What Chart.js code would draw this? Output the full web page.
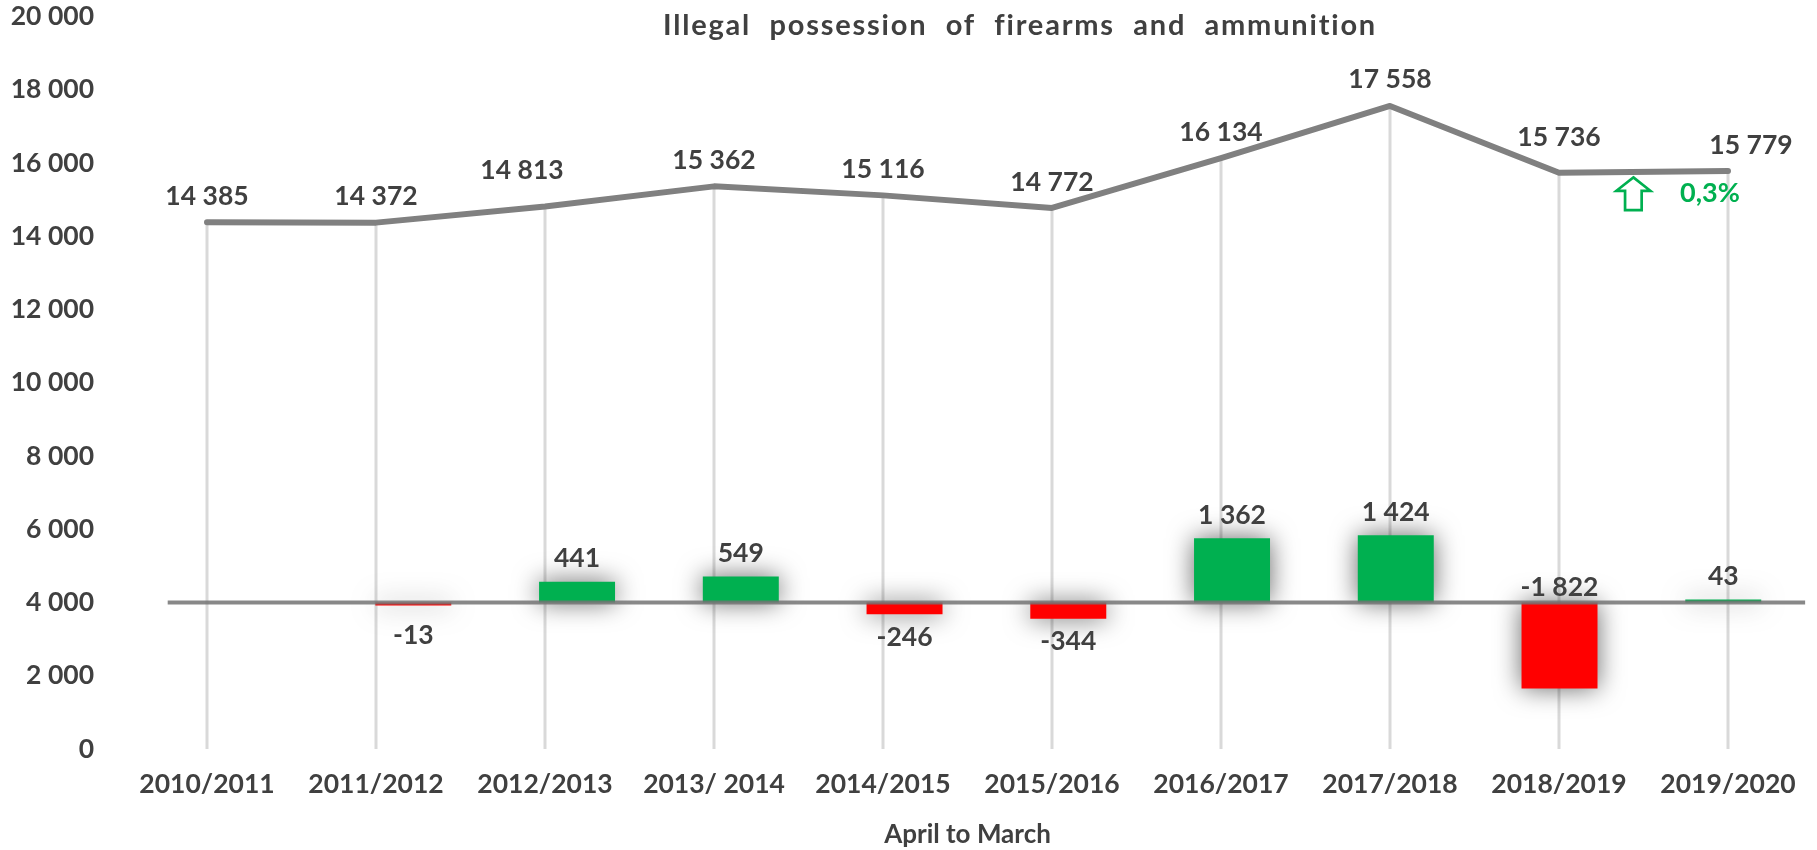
<!DOCTYPE html>
<html lang="en">
<head>
<meta charset="UTF-8">
<title>Illegal possession of firearms and ammunition</title>
<script src="https://cdn.jsdelivr.net/npm/chart.js"></script>
<style>
  html, body { margin: 0; padding: 0; background: #fff; }
  .chart-container { position: relative; width: 1817px; height: 850px; }
</style>
</head>
<body>
<div class="chart-container"><canvas id="chart"></canvas></div>
<script>
// data
const categories = ['2010/2011', '2011/2012', '2012/2013', '2013/ 2014', '2014/2015',
                    '2015/2016', '2016/2017', '2017/2018', '2018/2019', '2019/2020'];
const totals  = [14385, 14372, 14813, 15362, 15116, 14772, 16134, 17558, 15736, 15779];
const changes = [null, -13, 441, 549, -246, -344, 1362, 1424, -1822, 43];
const yTicks  = [0, 2000, 4000, 6000, 8000, 10000, 12000, 14000, 16000, 18000, 20000];
const lastChange = '0,3%';
const chartTitle = 'Illegal possession of firearms and ammunition';

const TEXT = '#404040';
const GREEN = '#00B050';
const RED = '#FF0000';
const FONT = 'Lato';

// title is spread out in the original: fixed box it has to fill
const titleBox = { left: 663, width: 714, baseline: 34.5 };

// labels Excel had nudged by hand: [dx, dy]
const totalLabelShift = { 2: [-23, -10], 8: [0, -9], 9: [23, 0] };
const barLabelShift = { 1: 7 };
const barLabelAtBase = [8];

const fmt = v => (v < 0 ? '-' : '') + String(Math.abs(v)).replace(/\B(?=(\d{3})+(?!\d))/g, ' ');

// vertical drop lines from the totals line down to zero
const dropLines = {
  id: 'dropLines',
  beforeDatasetsDraw(chart) {
    const ctx = chart.ctx;
    const y0 = chart.scales.y.getPixelForValue(0);
    ctx.save();
    ctx.strokeStyle = '#d9d9d9';
    ctx.lineWidth = 3;
    chart.getDatasetMeta(0).data.forEach(pt => {
      ctx.beginPath();
      ctx.moveTo(pt.x, pt.y);
      ctx.lineTo(pt.x, y0);
      ctx.stroke();
    });
    ctx.restore();
  }
};

// soft glow behind the change bars
const barShadow = {
  id: 'barShadow',
  beforeDatasetDraw(chart, args) {
    if (args.index !== 1) return;
    const ctx = chart.ctx;
    ctx.save();
    ctx.shadowColor = 'rgba(0,0,0,0.6)';
    ctx.shadowBlur = 26;
  },
  afterDatasetDraw(chart, args) {
    if (args.index !== 1) return;
    chart.ctx.restore();
  }
};

const labelsPlugin = {
  id: 'labels',
  afterDatasetsDraw(chart) {
    const ctx = chart.ctx;
    const xs = chart.scales.x, ys = chart.scales.y;
    ctx.save();
    ctx.fillStyle = TEXT;

    // title, word by word
    ctx.font = `bold 29px ${FONT}`;
    ctx.letterSpacing = '1.8px';
    ctx.textAlign = 'left';
    ctx.textBaseline = 'alphabetic';
    const words = chartTitle.split(' ');
    const widths = words.map(w => ctx.measureText(w).width);
    const gap = (titleBox.width - widths.reduce((a, b) => a + b, 0)) / (words.length - 1);
    let tx = titleBox.left;
    words.forEach((w, i) => {
      ctx.fillText(w, tx, titleBox.baseline);
      tx += widths[i] + gap;
    });
    ctx.letterSpacing = '0px';

    ctx.textAlign = 'center';
    ctx.textBaseline = 'middle';
    ctx.font = `bold 26.5px ${FONT}`;
    chart.getDatasetMeta(0).data.forEach((pt, i) => {
      const s = totalLabelShift[i] || [0, 0];
      ctx.fillText(fmt(totals[i]), pt.x + s[0], pt.y - 26 + s[1]);
    });
    chart.getDatasetMeta(1).data.forEach((bar, i) => {
      const v = changes[i];
      if (v === null) return;
      let y;
      if (barLabelAtBase.includes(i)) y = bar.base - 15;
      else y = v >= 0 ? bar.y - 23 : bar.y + 23;
      ctx.fillText(fmt(v), bar.x, y + (barLabelShift[i] || 0));
    });

    // up arrow + last change
    const x8 = xs.getPixelForValue(8), x9 = xs.getPixelForValue(9);
    const yl = ys.getPixelForValue((totals[8] + totals[9]) / 2);
    const ax = x8 + (x9 - x8) * 0.44, ay = yl + 5.5;
    ctx.beginPath();
    ctx.moveTo(ax, ay);
    ctx.lineTo(ax + 17, ay + 13.4);
    ctx.lineTo(ax + 8.3, ay + 13.4);
    ctx.lineTo(ax + 8.3, ay + 32.7);
    ctx.lineTo(ax - 8.3, ay + 32.7);
    ctx.lineTo(ax - 8.3, ay + 13.4);
    ctx.lineTo(ax - 17, ay + 13.4);
    ctx.closePath();
    ctx.fillStyle = '#fff';
    ctx.fill();
    ctx.strokeStyle = GREEN;
    ctx.lineWidth = 2.7;
    ctx.stroke();

    ctx.fillStyle = GREEN;
    ctx.font = `bold 27px ${FONT}`;
    ctx.fillText(lastChange, x8 + (x9 - x8) * 0.893, yl + 21);
    ctx.restore();
  }
};

const tickFont = { family: FONT, size: 26.5, weight: 'bold' };

new Chart(document.getElementById('chart'), {
  type: 'line',
  data: {
    labels: categories,
    datasets: [
      {
        type: 'line',
        data: totals,
        xAxisID: 'x',
        yAxisID: 'y',
        borderColor: '#808080',
        borderWidth: 6,
        borderCapStyle: 'round',
        borderJoinStyle: 'round',
        pointRadius: 0,
        tension: 0,
        order: 0
      },
      {
        type: 'bar',
        data: changes.map((v, i) => ({ x: i, y: v })),
        xAxisID: 'x2',
        yAxisID: 'y2',
        backgroundColor: changes.map(v => (v !== null && v < 0) ? RED : GREEN),
        grouped: false,
        categoryPercentage: 1,
        barPercentage: 0.464,
        minBarLength: 3,
        order: 2
      },
      {
        type: 'line',
        data: [{ x: -0.5, y: 0 }, { x: 9.5, y: 0 }],
        xAxisID: 'x2',
        yAxisID: 'y2',
        borderColor: 'rgba(115,115,115,0.85)',
        borderWidth: 4,
        pointRadius: 0,
        order: 1
      }
    ]
  },
  options: {
    responsive: true,
    maintainAspectRatio: false,
    animation: false,
    layout: { padding: { left: 0, right: 4.5, top: 16.5, bottom: 0 } },
    plugins: {
      legend: { display: false },
      title: { display: false },
      tooltip: { enabled: false }
    },
    scales: {
      x: {
        type: 'category',
        offset: true,
        grid: { display: false, drawTicks: false },
        border: { display: false },
        afterFit: s => { s.height = 101; },
        ticks: { padding: 20, color: TEXT, font: tickFont, maxRotation: 0, autoSkip: false },
        title: {
          display: true,
          text: 'April to March',
          color: TEXT,
          font: { family: FONT, size: 26, weight: 'bold' },
          padding: { top: 0, bottom: 0 }
        }
      },
      y: {
        min: yTicks[0],
        max: yTicks[yTicks.length - 1],
        afterBuildTicks: s => { s.ticks = yTicks.map(v => ({ value: v })); },
        afterFit: s => { s.width = 122.5; s.paddingTop = 16; s.paddingBottom = 16; },
        grid: { display: false, drawTicks: false },
        border: { display: false },
        ticks: { padding: 28.5, color: TEXT, font: tickFont, callback: v => fmt(v) }
      },
      // hidden axes for the change bars (the bar axis in the original is set apart from the line axis)
      x2: {
        type: 'linear', display: false, offset: false, min: -0.776, max: 9.545,
        afterBuildTicks: s => { s.ticks = categories.map((c, i) => ({ value: i })); }
      },
      y2: { type: 'linear', display: false, min: -3100, max: 12400 }
    }
  },
  plugins: [dropLines, barShadow, labelsPlugin]
});
</script>
</body>
</html>
